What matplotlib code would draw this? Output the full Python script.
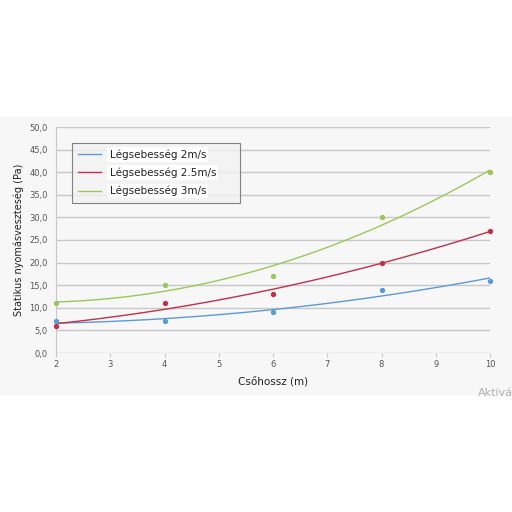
import numpy as np
import matplotlib
matplotlib.use('Agg')
import matplotlib.pyplot as plt

# Csőhossz (m) and measured pressure loss (Pa) per air speed
lengths = [2, 4, 6, 8, 10]
loss_2ms = [7, 7, 9, 14, 16]
loss_25ms = [6, 11, 13, 20, 27]
loss_3ms = [11, 15, 17, 30, 40]

series_labels = ['Légsebesség 2m/s', 'Légsebesség 2.5m/s', 'Légsebesség 3m/s']
series_colors = ['#5b9bd5', '#c0304a', '#9bc75a']
y_ticks = [0, 5, 10, 15, 20, 25, 30, 35, 40, 45, 50]
x_ticks = [2, 3, 4, 5, 6, 7, 8, 9, 10]

fig = plt.figure(figsize=(5.12, 5.12), dpi=100)
fig.patch.set_facecolor('white')

# light grey panel behind the chart
bg = fig.add_axes([0, 1 - 395 / 512, 1, (395 - 117) / 512], zorder=-1)
bg.set_facecolor('#f7f7f7')
bg.set_xticks([])
bg.set_yticks([])
for s in bg.spines.values():
    s.set_visible(False)

ax = fig.add_axes([56 / 512, 1 - 353 / 512, 434 / 512, 226 / 512])
ax.set_facecolor('none')

xs = np.linspace(2, 10, 200)
handles = []
for ys, col, lab in zip([loss_2ms, loss_25ms, loss_3ms], series_colors, series_labels):
    coef = np.polyfit(lengths, ys, 2)
    h, = ax.plot(xs, np.polyval(coef, xs), color=col, lw=1.0, label=lab, zorder=3)
    ax.scatter(lengths, ys, color=col, s=8, zorder=4, clip_on=False)
    handles.append(h)

ax.set_xlim(2, 10)
ax.set_ylim(0, 50)
ax.set_yticks(y_ticks)
ax.set_yticklabels([f'{v:.1f}'.replace('.', ',') for v in y_ticks])
ax.set_xticks(x_ticks)
ax.yaxis.grid(True, color='#c8c8c8', lw=1.0)
ax.set_axisbelow(True)
for s in ['top', 'right', 'bottom']:
    ax.spines[s].set_visible(False)
ax.spines['left'].set_color('#c8c8c8')
ax.tick_params(axis='y', length=0, labelsize=6, colors='#555555', pad=6)
ax.tick_params(axis='x', length=3, color='#c8c8c8', labelsize=6, colors='#555555', pad=2)

ax.set_ylabel('Statikus nyomásveszteség (Pa)', fontsize=7, color='#222222', labelpad=4)
ax.set_xlabel('Csőhossz (m)', fontsize=7.5, color='#222222', labelpad=6)

leg = ax.legend(handles=handles, loc='upper left',
                bbox_to_anchor=(16 / 434, 1 - 76 / 226, 168 / 434, 60 / 226),
                mode='expand', borderaxespad=0,
                fontsize=7.5, frameon=True, fancybox=False, handlelength=2.2,
                borderpad=0.6, labelspacing=0.75, handletextpad=0.8)
leg.get_frame().set_edgecolor('#666666')
leg.get_frame().set_facecolor('#f2f2f2')
leg.get_frame().set_linewidth(0.8)
for t in leg.get_texts():
    t.set_color('#222222')
    t.set_bbox(dict(facecolor='white', edgecolor='none', pad=1.5))

fig.text(478 / 512, 1 - 393 / 512, 'Aktivá', fontsize=8, color='#b0b0b0', va='center')

fig.savefig('out.png', dpi=100)
